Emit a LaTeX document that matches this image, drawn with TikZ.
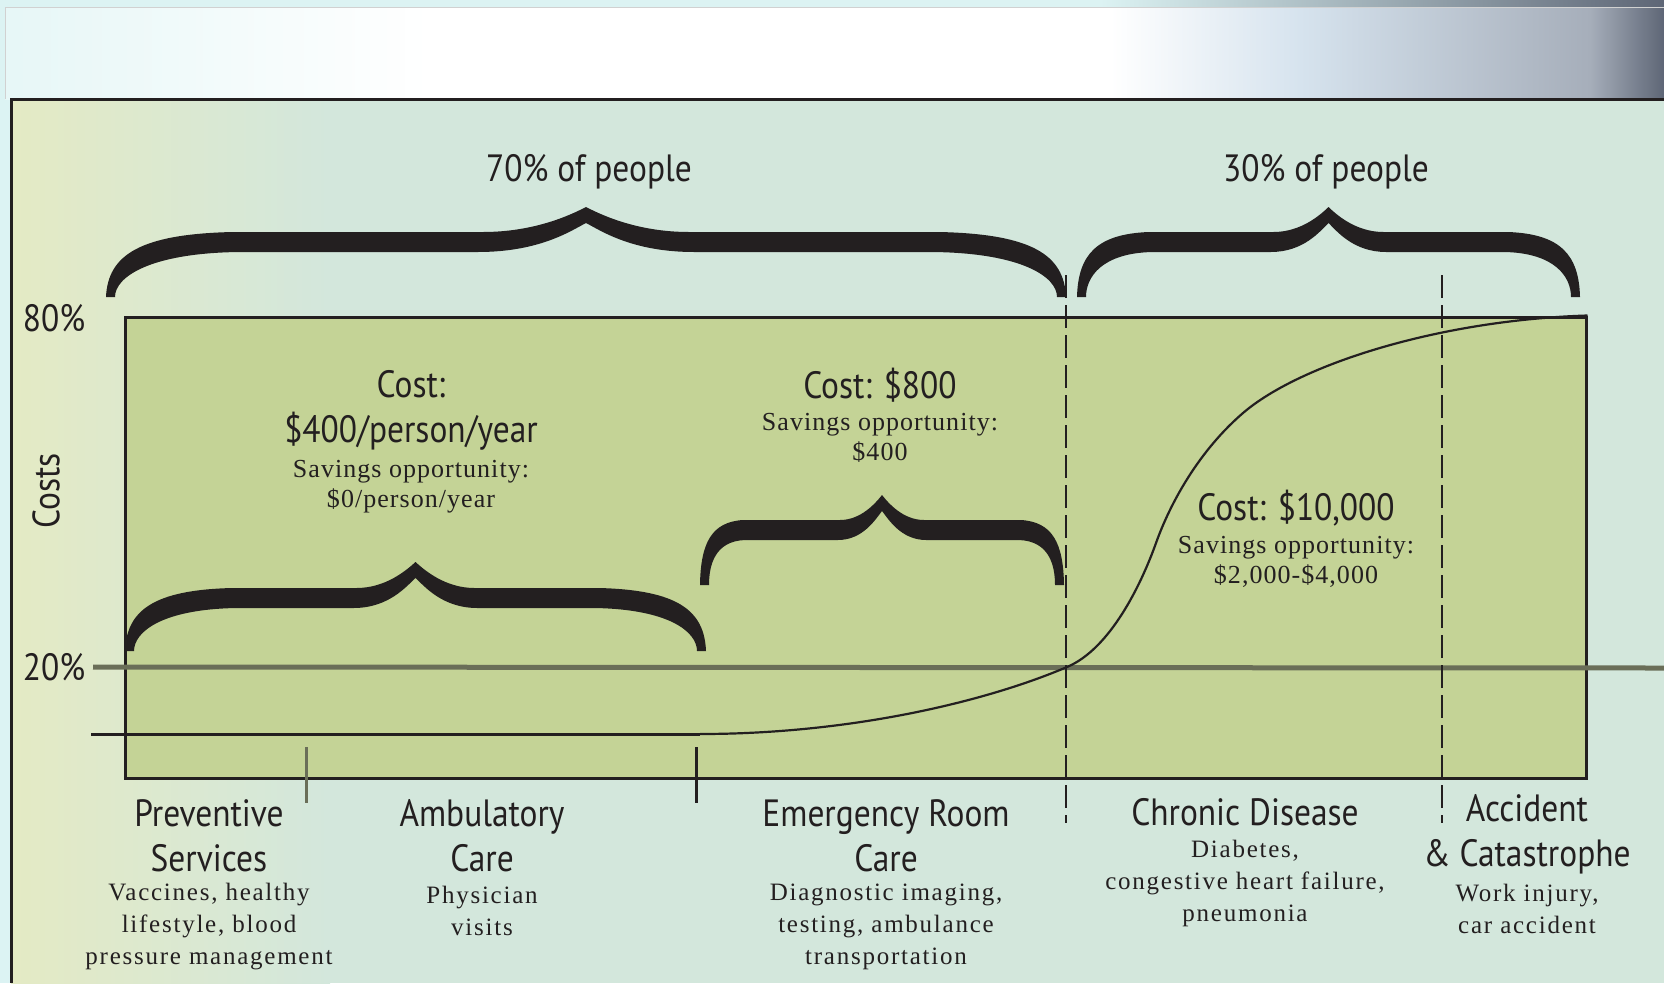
\documentclass[tikz,border=0pt]{standalone}
\usepackage{fontspec}
\setmainfont{Liberation Serif}
\newfontfamily\condsans[FakeStretch=0.88]{PT Sans}
\usetikzlibrary{positioning}
\definecolor{inkgray}{HTML}{231F20}
\definecolor{chartgreen}{HTML}{C4D396}
\definecolor{panelmint}{HTML}{D3E7DC}
\definecolor{panelyellow}{HTML}{E4EAC4}
\definecolor{linegray}{HTML}{6A6E58}
\definecolor{skycyan}{HTML}{DCF3F3}
\definecolor{skyblue}{HTML}{D6E3EE}
\definecolor{skysteel}{HTML}{A6AEBA}
\definecolor{skydark}{HTML}{5E6676}
\tikzset{
    cat_head/.style = {align=center, inner sep=0pt, text=inkgray,
        font=\condsans\fontsize{38}{45}\selectfont},
    cat_note/.style = {align=center, inner sep=0pt, text=inkgray,
        font=\addfontfeature{LetterSpace=7}\fontsize{25}{32}\selectfont},% small serif under the headings
    cost_head/.style = {cat_head},
    cost_note/.style = {align=center, inner sep=0pt, text=inkgray,
        font=\addfontfeature{LetterSpace=4}\fontsize{26}{30}\selectfont},
    axis_lbl/.style = {inner sep=0pt, text=inkgray,
        font=\condsans\fontsize{38}{42}\selectfont},
    brace_ink/.style = {fill=inkgray},
    divider/.style = {draw=inkgray, line width=2pt, dash pattern=on 23pt off 7pt},
    tick_mark/.style = {draw=inkgray, line width=3pt},
}
% thick curly brace: left x, right x, end y, band y, tip y, end reach, tip reach
\newcommand{\curlybrace}[7]{%
  \pgfmathsetmacro{\bxm}{(#1+#2)/2}
  \pgfmathsetmacro{\bup}{#4-10}
  \pgfmathsetmacro{\blo}{#4+10}
  \fill[brace_ink] (#1,#3)
    .. controls ({#1+0.015*#6},{#3-0.65*(#3-\bup)}) and ({#1+0.27*#6},{\bup+2}) .. ({#1+#6},\bup)
    -- ({\bxm-#7},\bup)
    .. controls ({\bxm-0.5*#7},\bup) and ({\bxm-0.15*#7},{#5+8}) .. (\bxm,#5)
    .. controls ({\bxm+0.15*#7},{#5+8}) and ({\bxm+0.5*#7},\bup) .. ({\bxm+#7},\bup)
    -- ({#2-#6},\bup)
    .. controls ({#2-0.27*#6},{\bup+2}) and ({#2-0.015*#6},{#3-0.65*(#3-\bup)}) .. (#2,#3)
    -- ({#2-9},#3)
    .. controls ({#2-9},{#3-0.45*(#3-\blo)}) and ({#2-0.35*#6},{\blo+1}) .. ({#2-1.05*#6},\blo)
    -- ({\bxm+1.05*#7},\blo)
    .. controls ({\bxm+0.45*#7},\blo) and ({\bxm+0.15*#7},{#5+24}) .. (\bxm,{#5+16})
    .. controls ({\bxm-0.15*#7},{#5+24}) and ({\bxm-0.45*#7},\blo) .. ({\bxm-1.05*#7},\blo)
    -- ({#1+1.05*#6},\blo)
    .. controls ({#1+0.35*#6},{\blo+1}) and ({#1+9},{#3-0.45*(#3-\blo)}) .. ({#1+9},#3)
    -- cycle;
}

\begin{document}
\begin{tikzpicture}[x=1pt,y=-1pt]
\useasboundingbox (0,0) rectangle (1664,983);

% window strip on top
\fill[skycyan] (0,0) rectangle (1664,983);
\shade[left color=skycyan, right color=skydark] (1100,0) rectangle (1664,7);
\shade[left color=skycyan!70!white, right color=white] (5,7) rectangle (430,99);
\fill[white] (430,7) rectangle (1110,99);
\shade[left color=white, right color=skyblue] (1110,7) rectangle (1300,99);
\shade[left color=skyblue, right color=skysteel] (1300,7) rectangle (1590,99);
\shade[left color=skysteel, right color=skydark] (1590,7) rectangle (1664,99);
\draw[black!18, line width=1pt] (5,99) -- (5,7) -- (1664,7);

% panel
\shade[left color=panelyellow, right color=panelmint] (11,99) rectangle (330,983);
\fill[panelmint] (330,99) rectangle (1664,983);
\draw[inkgray, line width=3pt] (11,983) -- (11,99) -- (1664,99);

% chart box
\node[draw=inkgray, line width=3pt, fill=chartgreen, inner sep=0pt,
      minimum width=1461pt, minimum height=461pt] (chart) at (855.5,547.5) {};

% axis labels
\node[axis_lbl] (lbl_80) at (54,318) {80\%};
\node[axis_lbl] (lbl_20) at (54,667) {20\%};
\node[axis_lbl, rotate=90] (lbl_costs) at (46,491) {Costs};

% 20% line and base line
\coordinate (end_20) at (1664,668);
\draw[linegray, line width=5pt] (lbl_20.east -| 93,668) -- (end_20);
\coordinate (base_l) at (91,734);
\coordinate (base_r) at (700,734);
\coordinate (cross_20) at (1067,667);
\coordinate (steep) at (1156,543);
\coordinate (bend) at (1243,413);
\draw[inkgray, line width=3pt] (base_l) -- (base_r);
\draw[inkgray, line width=2.2pt] (base_r)
    .. controls (850,734) and (985,702) .. (cross_20)
    .. controls (1110,649) and (1141,585) .. (steep)
    .. controls (1171,501) and (1200,450) .. (bend)
    .. controls (1300,364) and (1440,320) .. (chart.north east);

% dividers
\coordinate (div1_t) at (1066,275);
\coordinate (div1_b) at (1066,823);
\coordinate (div2_t) at (1442,275);
\coordinate (div2_b) at (1442,823);
\draw[divider] (div1_t) -- (div1_b);
\draw[divider] (div2_t) -- (div2_b);
\coordinate (tick1_t) at (306,747);
\coordinate (tick1_b) at (306,803);
\coordinate (tick2_t) at (696,747);
\coordinate (tick2_b) at (696,803);
\draw[tick_mark, draw=linegray] (tick1_t) -- (tick1_b);
\draw[tick_mark] (tick2_t) -- (tick2_b);

% braces
\curlybrace{106}{1066}{297}{242}{207}{127}{103}
\curlybrace{1077}{1580}{297}{242}{207}{72}{55}
\curlybrace{125}{706}{651}{598}{562}{107}{59}
\curlybrace{700}{1064}{585}{530}{495}{43}{42}

\node[axis_lbl] (grp_70) at (589,172) {70\% of people};
\node[axis_lbl] (grp_30) at (1326,172) {30\% of people};

% costs
\node[cost_head] (cost_prev) at (411,410.5) {Cost:\\\$400/person/year};
\node[cost_note] (save_prev) at (411,487) {Savings opportunity:\\\$0/person/year};
\node[cost_head] (cost_er) at (880,385) {Cost: \$800};
\node[cost_note] (save_er) at (880,437.5) {Savings opportunity:\\\$400};
\node[cost_head] (cost_chr) at (1296,508) {Cost: \$10,000};
\node[cost_note] (save_chr) at (1296,562) {Savings opportunity:\\\$2,000-\$4,000};

% categories
\node[cat_head] (prev_head) at (209,835.5) {Preventive\\Services};
\node[cat_note] (prev_note) at (209,927) {Vaccines, healthy\\lifestyle, blood\\pressure management};
\node[cat_head] (amb_head) at (482,835.5) {Ambulatory\\Care};
\node[cat_note] (amb_note) at (482,911) {Physician\\visits};
\node[cat_head] (er_head) at (886,835.5) {Emergency Room\\Care};
\node[cat_note] (er_note) at (886,927) {Diagnostic imaging,\\testing, ambulance\\transportation};
\node[cat_head] (chr_head) at (1245,812) {Chronic Disease};
\node[cat_note] (chr_note) at (1245,883) {Diabetes,\\congestive heart failure,\\pneumonia};
\node[cat_head] (acc_head) at (1527,834.5) {Accident\\\& Catastrophe};
\node[cat_note] (acc_note) at (1527,909) {Work injury,\\car accident};
\end{tikzpicture}
\end{document}
